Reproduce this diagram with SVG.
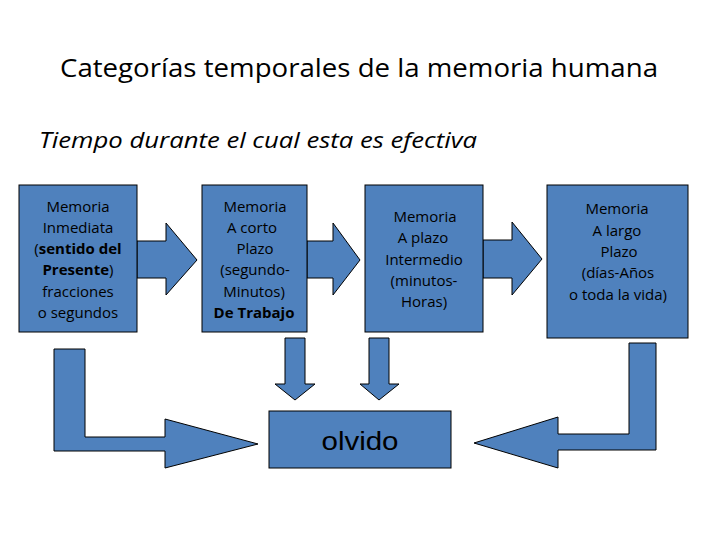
<svg xmlns="http://www.w3.org/2000/svg" width="720" height="540" viewBox="0 0 720 540">
<style>
.shape{fill:#4F81BD;stroke:#000;stroke-width:1}
.t{font-family:"Open Sans","Liberation Sans",sans-serif;font-size:15px;fill:#000;text-anchor:middle}
.b{font-weight:bold}
.title{font-family:"Open Sans","Liberation Sans",sans-serif;font-size:26px;fill:#000}
.sub{font-family:"Open Sans","Liberation Sans",sans-serif;font-size:21px;font-style:italic;fill:#000}
</style>
<rect width="720" height="540" fill="#fff"/>
<text class="title" x="60" y="77" textLength="598" lengthAdjust="spacingAndGlyphs">Categorías temporales de la memoria humana</text>
<text class="sub" x="39" y="148" textLength="438" lengthAdjust="spacingAndGlyphs">Tiempo durante el cual esta es efectiva</text>

<g id="connectors">
<polygon class="shape" points="137,241 166,241 166,223 197,260 166,295 166,278 137,278"/>
<polygon class="shape" points="307,241 333,241 333,223 360,260 333,295 333,278 307,278"/>
<polygon class="shape" points="483,240 512,240 512,222 542,259 512,295 512,278 483,278"/>
<polygon class="shape" points="285,338 305,338 305,384 315,384 295,400 275,384 285,384"/>
<polygon class="shape" points="369,338 389,338 389,384 399,384 379,400 360,384 369,384"/>
<polygon class="shape" points="54,349 85,349 85,437 165,437 165,419 258,444 165,468 165,451 54,451"/>
<polygon class="shape" points="629,343 656,343 656,450 558,450 558,468 474,443 558,417 558,434 629,434"/>
</g>

<g id="inmediata">
<rect class="shape" x="19" y="185" width="118" height="147"/>
<text class="t" x="78" y="212">Memoria</text>
<text class="t" x="78" y="233">Inmediata</text>
<text class="t" x="78" y="254">(<tspan class="b">sentido del</tspan></text>
<text class="t" x="78" y="275"><tspan class="b">Presente</tspan>)</text>
<text class="t" x="78" y="297">fracciones</text>
<text class="t" x="78" y="318">o segundos</text>
</g>

<g id="corto">
<rect class="shape" x="202" y="185" width="105" height="147"/>
<text class="t" x="255" y="212">Memoria</text>
<text class="t" x="252" y="233">A corto</text>
<text class="t" x="255" y="254">Plazo</text>
<text class="t" x="255" y="275">(segundo-</text>
<text class="t" x="254" y="297">Minutos)</text>
<text class="t b" x="254" y="318">De Trabajo</text>
</g>

<g id="intermedio">
<rect class="shape" x="365" y="185" width="118" height="147"/>
<text class="t" x="425" y="222">Memoria</text>
<text class="t" x="423" y="243">A plazo</text>
<text class="t" x="424" y="265">Intermedio</text>
<text class="t" x="424" y="286">(minutos-</text>
<text class="t" x="424" y="307">Horas)</text>
</g>

<g id="largo">
<rect class="shape" x="547" y="185" width="141" height="153"/>
<text class="t" x="617" y="214">Memoria</text>
<text class="t" x="617" y="236">A largo</text>
<text class="t" x="619" y="257">Plazo</text>
<text class="t" x="618" y="278">(días-Años</text>
<text class="t" x="618" y="300">o toda la vida)</text>
</g>

<g id="olvido">
<rect class="shape" x="269" y="411" width="182" height="57"/>
<text x="360" y="450" font-family="'Liberation Sans',Arial,sans-serif" font-size="25" text-anchor="middle" fill="#000" textLength="77" lengthAdjust="spacingAndGlyphs">olvido</text>
</g>
</svg>
